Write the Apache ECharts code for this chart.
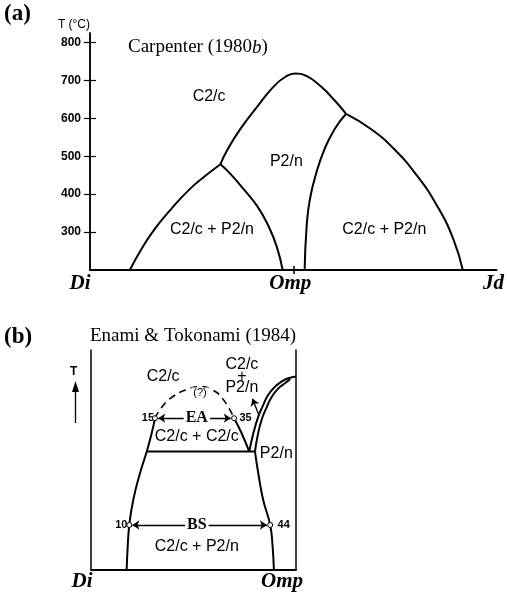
<!DOCTYPE html>
<html><head><meta charset="utf-8">
<script src="https://cdn.jsdelivr.net/npm/echarts@6/dist/echarts.min.js"></script>
<style>html,body{margin:0;padding:0;background:#fff}#c{width:507px;height:594px}</style>
</head><body><div id="c"></div>
<script>
// ---------- Panel (a): Carpenter (1980b) ----------
const xTicksA = [0, 50, 100];
const xNamesA = ['Di', 'Omp', 'Jd'];
const yTicksA = [300, 400, 500, 600, 700, 800];
// phase boundaries (x = composition %, y = T in °C)
const leftA  = [[9.8,200],[12.6,254],[15.85,307],[19.9,360],[24.6,414],[28.7,451],[32.1,479]];
const midA   = [[32.1,479],[34.6,453],[37.8,413],[41.1,369],[43.9,316],[45.9,263],[47.4,200]];
const arcA   = [[32.1,479],[33.7,515],[37.0,572],[41.1,630],[45.1,683],[48.0,709],[50.5,718],[53.2,712],[56.9,683],[60.2,647],[63.0,612]];
const innerA = [[63.0,612],[60.2,572],[57.7,519],[55.7,457],[54.1,387],[53.3,316],[52.8,200]];
const rightA = [[63.0,612],[69.1,572],[74.8,519],[80.5,448],[85.4,369],[89.4,281],[91.7,200]];
const regionNamesA = ['C2/c', 'P2/n', 'C2/c + P2/n', 'C2/c + P2/n'];
const regionPosA = [[29.3,657],[48.3,485],[30.0,307],[72.4,307]];

// ---------- Panel (b): Enami & Tokonami (1984) ----------
const xTicksB = [0, 50];
const xNamesB = ['Di', 'Omp'];
const leftB  = [[8.7,0],[8.95,10.3],[9.34,20.2],[10.3,31.6],[11.95,43.8],[13.6,53.7],[14.8,62.0],[15.6,68.9]];
const dashB  = [[15.6,68.9],[17.5,74.5],[20.0,78.8],[23.1,81.8],[26.6,83.3],[29.8,81.6],[32.2,77.6],[34.9,68.9]];
const b35B   = [[34.9,68.9],[36.6,62.6],[38.6,53.7]];
const solvusB = [[13.6,53.7],[40.0,53.7]];
const lowRightB = [[40.0,53.7],[40.8,43.8],[42.0,31.6],[43.7,20.2],[44.3,10.3],[44.6,0]];
const outerB = [[38.6,53.7],[39.6,62.0],[40.8,69.6],[42.0,74.9],[43.2,79.5],[44.9,83.3],[46.5,85.6],[48.1,87.1],[50,87.9]];
const innerB = [[40.0,53.7],[40.6,60.5],[41.6,68.1],[42.9,74.1],[44.1,78.7],[45.7,82.5],[47.3,84.8],[48.6,86.8]];
const pointNamesB = ['15', '35', '10', '44'];
const pointPosB = [[15.6,68.9],[34.9,68.9],[9.34,20.2],[43.7,20.2]];
const arrowEA = [[16.4,68.9],[34.1,68.9]];
const arrowBS = [[10.1,20.2],[42.9,20.2]];
const arrowP2n = [[41.0,70.0],[39.4,77.8]];
const regionNamesB = ['C2/c', 'C2/c + C2/c', 'P2/n', 'C2/c\n+\nP2/n', 'C2/c + P2/n'];
const regionPosB = [[17.6,87.8],[25.8,60.5],[45.2,52.9],[36.8,88.1],[25.8,10.3]];
const serifNamesB = ['EA', 'BS'];
const serifPosB = [[25.8,68.9],[25.8,20.2]];
const questionB = ['(?)'];
const questionPosB = [[26.6,80.4]];
const pointLabelPosB = [[13.9,68.9],[37.7,68.9],[7.4,20.2],[47.0,20.2]];

const SANS = 'Liberation Sans';
const SERIF = 'Liberation Serif';

function curve(data, xi, yi, extra) {
  return Object.assign({
    type: 'line', xAxisIndex: xi, yAxisIndex: yi, data: data,
    smooth: 0.5, symbol: 'none', silent: true, clip: false,
    lineStyle: { color: '#000', width: 2 }, z: 3
  }, extra || {});
}
function labels(names, pos, xi, yi, style, z) {
  return {
    type: 'scatter', xAxisIndex: xi, yAxisIndex: yi, symbolSize: 0, silent: true, z: z || 5,
    itemStyle: { opacity: 1 },
    data: names.map((n, i) => ({ name: n, value: pos[i] })),
    label: Object.assign({ show: true, position: 'inside', formatter: '{b}', color: '#000', opacity: 1 }, style)
  };
}
function arrow(coords, syms) {
  return {
    type: 'lines', coordinateSystem: 'cartesian2d', xAxisIndex: 2, yAxisIndex: 2, silent: true,
    symbol: syms, symbolSize: 7, z: 4,
    lineStyle: { color: '#000', width: 1.3, opacity: 1 },
    data: [{ coords: coords }]
  };
}
function xLab(ticks, names) {
  return function (v) {
    const i = ticks.indexOf(v);
    return i < 0 ? '' : '{s' + i + '|' + names[i] + '}';
  };
}
const xRich = (shifts) => {
  const r = {};
  shifts.forEach((s, i) => {
    r['s' + i] = { fontFamily: SERIF, fontSize: 21, fontWeight: 'bold', fontStyle: 'italic', color: '#000', padding: [0, s, 0, 0] };
  });
  return r;
};

const chart = echarts.init(document.getElementById('c'));
chart.setOption({
  animation: false,
  backgroundColor: '#fff',
  title: [
    { text: '(a)', left: 4, top: 3, padding: 0, textStyle: { fontFamily: SERIF, fontSize: 23, fontWeight: 'bold', color: '#000' } },
    { text: 'Carpenter (1980{i|b})', left: 128, top: 38, padding: 0,
      textStyle: { fontFamily: SERIF, fontSize: 19, fontWeight: 'normal', color: '#000',
        rich: { i: { fontFamily: SERIF, fontSize: 19, fontStyle: 'italic', color: '#000' } } } },
    { text: '(b)', left: 4, top: 326, padding: 0, textStyle: { fontFamily: SERIF, fontSize: 23, fontWeight: 'bold', color: '#000' } },
    { text: 'Enami & Tokonami (1984)', left: 90, top: 327, padding: 0, textStyle: { fontFamily: SERIF, fontSize: 19, fontWeight: 'normal', color: '#000' } }
  ],
  graphic: [
    { type: 'text', left: 70, top: 366, style: { text: 'T', fontFamily: SANS, fontSize: 12, fontWeight: 'bold', fill: '#000' } },
    { type: 'line', shape: { x1: 75.5, y1: 423, x2: 75.5, y2: 388 }, style: { stroke: '#000', lineWidth: 1.3 } },
    { type: 'polygon', shape: { points: [[72, 392], [79, 392], [75.5, 381]] }, style: { fill: '#000' } }
  ],
  grid: [
    { left: 90, top: 33, width: 410, height: 237 },
    { left: 91, top: 350, width: 205, height: 219.3 }
  ],
  xAxis: [
    { type: 'value', gridIndex: 0, min: 0, max: 100, position: 'bottom', splitLine: { show: false },
      axisLine: { show: true, lineStyle: { color: '#000', width: 2 } },
      axisTick: { show: true, customValues: [50], length: 4, lineStyle: { color: '#000', width: 1.5 } },
      axisLabel: { customValues: xTicksA, margin: 3, formatter: xLab(xTicksA, xNamesA), rich: xRich([20, 6, 6]) } },
    { type: 'value', gridIndex: 0, min: 0, max: 100, position: 'bottom', splitLine: { show: false },
      axisLine: { show: false },
      axisTick: { show: true, inside: true, customValues: [50], length: 4, lineStyle: { color: '#000', width: 1.5 } },
      axisLabel: { show: false } },
    { type: 'value', gridIndex: 1, min: 0, max: 50, position: 'bottom', splitLine: { show: false },
      axisLine: { show: true, lineStyle: { color: '#000', width: 2 } },
      axisTick: { show: false },
      axisLabel: { customValues: xTicksB, margin: 2, formatter: xLab(xTicksB, xNamesB), rich: xRich([18, 28]) } }
  ],
  yAxis: [
    { type: 'value', gridIndex: 0, min: 200, max: 825, position: 'left', splitLine: { show: false },
      name: 'T (°C)', nameLocation: 'end', nameGap: 2,
      nameTextStyle: { fontFamily: SANS, fontSize: 12, color: '#000', align: 'right', verticalAlign: 'bottom' },
      axisLine: { show: true, lineStyle: { color: '#000', width: 1.5 } },
      axisTick: { show: true, customValues: yTicksA, length: 6, lineStyle: { color: '#000', width: 1.2 } },
      axisLabel: { customValues: yTicksA, margin: 9, fontFamily: SANS, fontSize: 12, fontWeight: 'bold', color: '#000' } },
    { type: 'value', gridIndex: 0, min: 200, max: 825, position: 'right', splitLine: { show: false },
      axisLine: { show: true, lineStyle: { color: '#000', width: 1.5 } },
      axisTick: { show: true, customValues: yTicksA, length: 6, lineStyle: { color: '#000', width: 1.2 } },
      axisLabel: { show: false } },
    { type: 'value', gridIndex: 1, min: 0, max: 100, position: 'left', splitLine: { show: false },
      axisLine: { show: true, lineStyle: { color: '#000', width: 1.5 } },
      axisTick: { show: false }, axisLabel: { show: false } },
    { type: 'value', gridIndex: 1, min: 0, max: 100, position: 'right', splitLine: { show: false },
      axisLine: { show: true, lineStyle: { color: '#000', width: 1.5 } },
      axisTick: { show: false }, axisLabel: { show: false } }
  ],
  series: [
    curve(leftA, 0, 0), curve(midA, 0, 0), curve(arcA, 0, 0), curve(innerA, 0, 0), curve(rightA, 0, 0),
    labels(regionNamesA, regionPosA, 0, 0, { fontFamily: SANS, fontSize: 16 }),

    curve(leftB, 2, 2), curve(b35B, 2, 2), curve(solvusB, 2, 2, { smooth: false }),
    curve(lowRightB, 2, 2), curve(outerB, 2, 2), curve(innerB, 2, 2),
    curve(dashB, 2, 2, { lineStyle: { color: '#000', width: 1.6, type: [7, 5] } }),
    arrow(arrowEA, ['arrow', 'arrow']), arrow(arrowBS, ['arrow', 'arrow']), arrow(arrowP2n, ['none', 'arrow']),
    { type: 'scatter', xAxisIndex: 2, yAxisIndex: 2, silent: true, z: 6, symbol: 'circle', symbolSize: 5,
      itemStyle: { color: '#fff', borderColor: '#000', borderWidth: 1, opacity: 1 },
      data: pointNamesB.map((n, i) => ({ name: n, value: pointPosB[i] })) },
    labels(pointNamesB, pointLabelPosB, 2, 2, { fontFamily: SANS, fontSize: 11, fontWeight: 'bold' }),
    labels(regionNamesB, regionPosB, 2, 2, { fontFamily: SANS, fontSize: 16, lineHeight: 11.5 }),
    labels(serifNamesB, serifPosB, 2, 2, { fontFamily: SERIF, fontSize: 16, fontWeight: 'bold', backgroundColor: '#fff', padding: [0, 2] }, 7),
    labels(questionB, questionPosB, 2, 2, { fontFamily: SANS, fontSize: 11, backgroundColor: '#fff', padding: [0, 2] }, 7)
  ]
});
</script>
</body></html>
